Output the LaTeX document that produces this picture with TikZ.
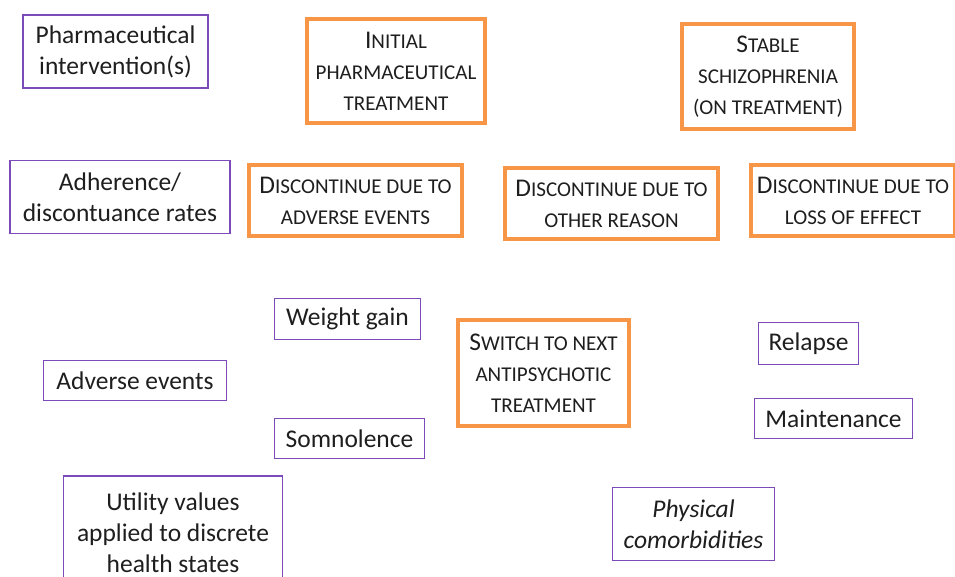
\documentclass[tikz,border=0pt]{standalone}
\usepackage{fontspec}
\setmainfont{Carlito}
\usepackage{xcolor}
\usepackage{tikz}
\usetikzlibrary{positioning}

\definecolor{boxorange}{RGB}{247,150,70}
\definecolor{boxpurple}{RGB}{125,75,185}
\definecolor{txtgray}{RGB}{30,30,30}

% first letter of a small-caps word
\newcommand{\initcap}[1]{{\fontsize{14.5}{17.6}\selectfont #1}}

\begin{document}
\begin{tikzpicture}[x=0.02cm,y=-0.02cm,
    every node/.style={text=txtgray,align=center,inner sep=0pt,
      font=\fontsize{14.5}{17.6}\selectfont},
    factor/.style={draw=boxpurple,line width=0.8pt,rectangle},
    state/.style={draw=boxorange,line width=2.3pt,rectangle,
      font=\fontsize{12}{17.6}\selectfont}]
            \useasboundingbox (0,0) rectangle (955,577);
            \clip (0,0) rectangle (955,577);

            % model factors
            \node [factor, minimum width=185*0.02cm, minimum height=73*0.02cm] (pharma) at (115.5,51.5) {Pharmaceutical\\intervention(s)};
            \node [factor, minimum width=220*0.02cm, minimum height=73*0.02cm] (adher) at (120,197) {Adherence/\\discontuance rates};
            \node [factor, minimum width=183*0.02cm, minimum height=40*0.02cm] (adverse) at (135,380.5) {Adverse events};
            \node [factor, minimum width=146*0.02cm, minimum height=41*0.02cm] (weight) at (347.5,319) {Weight gain};
            \node [factor, minimum width=150*0.02cm, minimum height=40*0.02cm] (somno) at (349.5,438.5) {Somnolence};
            \node [factor, minimum width=219*0.02cm, minimum height=114*0.02cm] (utility) at (173,533) {Utility values\\applied to discrete\\health states};
            \node [factor, minimum width=100*0.02cm, minimum height=42*0.02cm] (relapse) at (808.5,343.5) {Relapse};
            \node [factor, minimum width=158*0.02cm, minimum height=40*0.02cm] (maint) at (833.5,418.5) {Maintenance};
            \node [factor, minimum width=162*0.02cm, minimum height=73*0.02cm, font=\fontsize{14.5}{17.6}\selectfont\itshape] (physical) at (693.5,524) {Physical\\comorbidities};

            % health states
            \node [state, minimum width=178*0.02cm, minimum height=104*0.02cm] (initial) at (396,71) {\initcap{I}NITIAL\\PHARMACEUTICAL\\TREATMENT};
            \node [state, minimum width=172*0.02cm, minimum height=105*0.02cm] (stable) at (768,76.5) {\initcap{S}TABLE\\SCHIZOPHRENIA\\(ON TREATMENT)};
            \node [state, minimum width=213*0.02cm, minimum height=71*0.02cm] (discae) at (355.5,200.5) {\initcap{D}ISCONTINUE DUE TO\\ADVERSE EVENTS};
            \node [state, minimum width=213*0.02cm, minimum height=71*0.02cm] (discother) at (611.5,203.5) {\initcap{D}ISCONTINUE DUE TO\\OTHER REASON};
            \node [state, minimum width=204*0.02cm, minimum height=71*0.02cm] (discloss) at (853,200.5) {\initcap{D}ISCONTINUE DUE TO\\LOSS OF EFFECT};
            \node [state, minimum width=171*0.02cm, minimum height=106*0.02cm] (switch) at (543.5,373) {\initcap{S}WITCH TO NEXT\\ANTIPSYCHOTIC\\TREATMENT};
        \end{tikzpicture}
\end{document}
